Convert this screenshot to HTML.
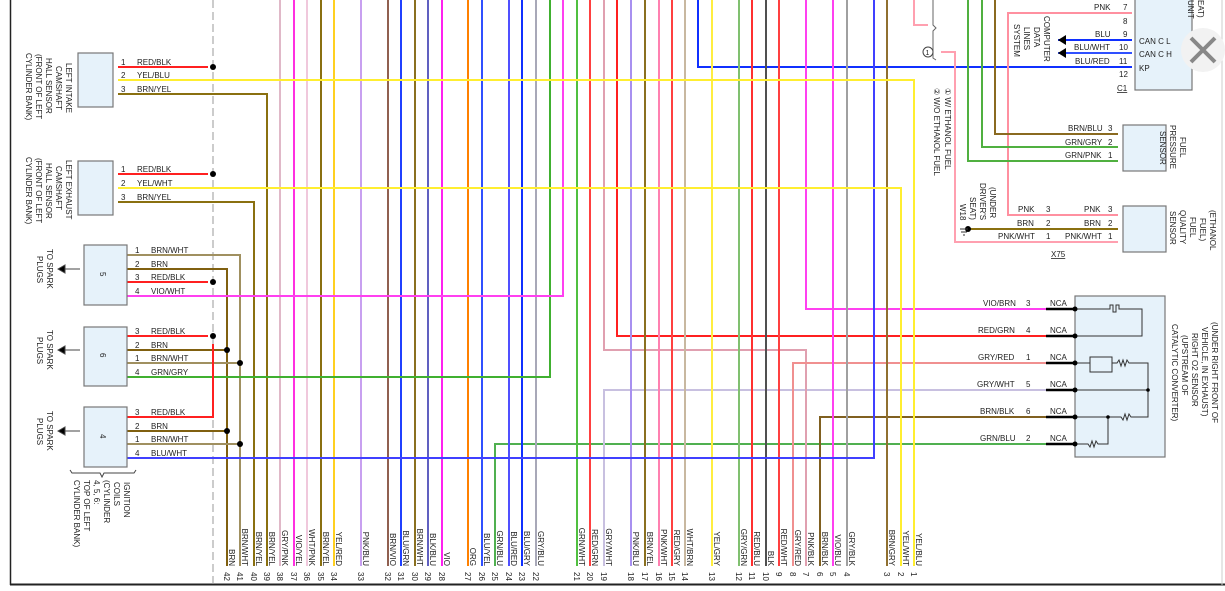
<!DOCTYPE html>
<html><head><meta charset="utf-8"><style>
html,body{margin:0;padding:0;background:#fff;}
svg{display:block;font-family:"Liberation Sans",sans-serif;}
text{font-size:8px;fill:#222;}
</style></head><body>
<svg width="1225" height="591" viewBox="0 0 1225 591" xmlns="http://www.w3.org/2000/svg">
<rect width="1225" height="591" fill="#fff"/>
<line x1="10.5" y1="0" x2="10.5" y2="585" stroke="#222" stroke-width="1.5"/>
<line x1="10" y1="584.5" x2="1225" y2="584.5" stroke="#222" stroke-width="2"/>
<line x1="1222" y1="0" x2="1222" y2="585" stroke="#ccc" stroke-width="1"/>
<line x1="213" y1="0" x2="213" y2="585" stroke="#999" stroke-width="1" stroke-dasharray="8,4"/>

<g fill="none" stroke-width="2">
<polyline points="118,269 227,269 227,566" stroke="#806010"/>
<polyline points="118,255 240,255 240,566" stroke="#a09060"/>
<polyline points="118,202 254,202 254,566" stroke="#8a7010"/>
<polyline points="118,94 267,94 267,566" stroke="#8a7010"/>
<line x1="280" y1="0" x2="280" y2="566" stroke="#e0b8c8"/>
<line x1="294" y1="0" x2="294" y2="566" stroke="#ff30e0"/>
<line x1="307" y1="0" x2="307" y2="566" stroke="#f0c8dc"/>
<line x1="321" y1="0" x2="321" y2="566" stroke="#8a7010"/>
<line x1="334" y1="0" x2="334" y2="566" stroke="#ffd020"/>
<line x1="361" y1="0" x2="361" y2="566" stroke="#c8a0f0"/>
<line x1="388" y1="0" x2="388" y2="566" stroke="#906050"/>
<line x1="401" y1="0" x2="401" y2="566" stroke="#2040ff"/>
<line x1="415" y1="0" x2="415" y2="566" stroke="#8a7020"/>
<line x1="428" y1="0" x2="428" y2="566" stroke="#6060c0"/>
<line x1="442" y1="0" x2="442" y2="566" stroke="#ff20f0"/>
<line x1="468" y1="0" x2="468" y2="566" stroke="#ff8000"/>
<line x1="482" y1="0" x2="482" y2="566" stroke="#3050ff"/>
<polyline points="1090,444 495,444 495,566" stroke="#50b050"/>
<line x1="509" y1="0" x2="509" y2="566" stroke="#5050ff"/>
<line x1="522" y1="0" x2="522" y2="566" stroke="#1030ff"/>
<line x1="536" y1="0" x2="536" y2="566" stroke="#a8a8b8"/>
<polyline points="550,0 550,377 118,377" stroke="#40b030"/>
<polyline points="563,0 563,296 118,296" stroke="#ff40f0"/>
<line x1="577" y1="0" x2="577" y2="566" stroke="#50c040"/>
<line x1="590" y1="0" x2="590" y2="566" stroke="#ff4040"/>
<polyline points="1090,390 604,390 604,566" stroke="#c8c0e0"/>
<polyline points="604,0 604,350 806,350 806,566" stroke="#e0a0b0"/>
<polyline points="617,0 617,336 1090,336" stroke="#ff2020"/>
<line x1="631" y1="0" x2="631" y2="566" stroke="#a890f0"/>
<line x1="645" y1="0" x2="645" y2="566" stroke="#8a7020"/>
<line x1="659" y1="0" x2="659" y2="566" stroke="#ff80b0"/>
<line x1="672" y1="0" x2="672" y2="566" stroke="#ff4040"/>
<line x1="685" y1="0" x2="685" y2="566" stroke="#c8b8a0"/>
<polyline points="698,0 698,67 1132,67" stroke="#1030ff"/>
<line x1="712" y1="0" x2="712" y2="566" stroke="#ffee40"/>
<line x1="739" y1="0" x2="739" y2="566" stroke="#80c070"/>
<line x1="752" y1="0" x2="752" y2="566" stroke="#ff3030"/>
<line x1="766" y1="0" x2="766" y2="566" stroke="#505050"/>
<line x1="779" y1="0" x2="779" y2="566" stroke="#ff4040"/>
<polyline points="1090,363 793,363 793,566" stroke="#f09090"/>
<polyline points="806,0 806,309 1090,309" stroke="#ff40f0"/>
<polyline points="1090,417 820,417 820,566" stroke="#806020"/>
<line x1="833" y1="0" x2="833" y2="566" stroke="#ff40f0"/>
<line x1="847" y1="0" x2="847" y2="566" stroke="#a0a0a0"/>
<polyline points="118,458 874,458 874,0" stroke="#4040ff"/>
<line x1="887" y1="0" x2="887" y2="566" stroke="#907030"/>
<polyline points="118,188 901,188 901,566" stroke="#ffee30"/>
<polyline points="118,80 914,80 914,566" stroke="#ffee30"/>
<polyline points="118,350 227,350" stroke="#806010"/>
<polyline points="118,431 227,431" stroke="#806010"/>
<polyline points="118,363 240,363" stroke="#a09060"/>
<polyline points="118,444 240,444" stroke="#a09060"/>
<line x1="118" y1="67" x2="208" y2="67" stroke="#ff2020"/>
<line x1="118" y1="174" x2="208" y2="174" stroke="#ff2020"/>
<line x1="118" y1="282" x2="208" y2="282" stroke="#ff2020"/>
<line x1="118" y1="336" x2="208" y2="336" stroke="#ff2020"/>
<polyline points="118,417 213,417 213,344" stroke="#ff2020"/>
<polyline points="1132,13 1008,13 1008,215 1113,215" stroke="#ff90a0"/>
<line x1="1055" y1="215" x2="1118" y2="215" stroke="#ff90a0"/>
<polyline points="1118,134 995,134 995,0" stroke="#8a6a20"/>
<polyline points="1118,147 982,147 982,0" stroke="#50b040"/>
<polyline points="1118,161 968,161 968,0" stroke="#50b040"/>
<line x1="970" y1="229" x2="1118" y2="229" stroke="#8a7010"/>
<polyline points="941,52 955,52 955,242 1118,242" stroke="#ffa0b0"/>
<polyline points="914,0 914,25 928,25" stroke="#ffa0b0"/>
<line x1="1058" y1="40" x2="1132" y2="40" stroke="#1030ff"/>
<line x1="1058" y1="53" x2="1132" y2="53" stroke="#3050ff"/>
</g>
<polygon points="1058,40 1066,35 1066,45" fill="#000"/>
<polygon points="1058,53 1066,48 1066,58" fill="#000"/>
<path d="M933 0 V25 L936 28 L933 31 V58 L936 60" fill="none" stroke="#666"/>
<circle cx="928" cy="52" r="5" fill="#fff" stroke="#444"/><text x="925.5" y="55" style="font-size:7px">1</text>
<g fill="#000">
<circle cx="213" cy="67" r="3"/><circle cx="213" cy="174" r="3"/><circle cx="213" cy="282" r="3"/><circle cx="213" cy="336" r="3"/>
<circle cx="227" cy="350" r="3"/><circle cx="227" cy="431" r="3"/><circle cx="240" cy="363" r="3"/><circle cx="240" cy="444" r="3"/>
<circle cx="968" cy="229" r="3"/>
</g>
<g fill="#e6f2fa" stroke="#777" stroke-width="1.2">
<rect x="78" y="53" width="35" height="54"/>
<rect x="78" y="161" width="35" height="54"/>
<rect x="84" y="245" width="43" height="60"/>
<rect x="84" y="327" width="43" height="59"/>
<rect x="84" y="407" width="43" height="60"/>
<rect x="1135" y="-2" width="57" height="92"/>
<rect x="1123" y="125" width="43" height="46"/>
<rect x="1123" y="206" width="43" height="46"/>
<rect x="1075" y="296" width="90" height="161"/>
</g>
<circle cx="1203" cy="50" r="22" fill="#f2f2f2"/>
<path d="M1191 38 L1215 62 M1215 38 L1191 62" stroke="#888" stroke-width="4"/>
<g>
<text x="121" y="65">1</text><text x="137" y="65">RED/BLK</text>
<text x="121" y="78">2</text><text x="137" y="78">YEL/BLU</text>
<text x="121" y="92">3</text><text x="137" y="92">BRN/YEL</text>
<text x="121" y="172">1</text><text x="137" y="172">RED/BLK</text>
<text x="121" y="186">2</text><text x="137" y="186">YEL/WHT</text>
<text x="121" y="200">3</text><text x="137" y="200">BRN/YEL</text>
<text x="135" y="253">1</text><text x="151" y="253">BRN/WHT</text>
<text x="135" y="267">2</text><text x="151" y="267">BRN</text>
<text x="135" y="280">3</text><text x="151" y="280">RED/BLK</text>
<text x="135" y="294">4</text><text x="151" y="294">VIO/WHT</text>
<text x="135" y="334">3</text><text x="151" y="334">RED/BLK</text>
<text x="135" y="348">2</text><text x="151" y="348">BRN</text>
<text x="135" y="361">1</text><text x="151" y="361">BRN/WHT</text>
<text x="135" y="375">4</text><text x="151" y="375">GRN/GRY</text>
<text x="135" y="415">3</text><text x="151" y="415">RED/BLK</text>
<text x="135" y="429">2</text><text x="151" y="429">BRN</text>
<text x="135" y="442">1</text><text x="151" y="442">BRN/WHT</text>
<text x="135" y="456">4</text><text x="151" y="456">BLU/WHT</text>
</g>
<g>
<text transform="translate(100,272) rotate(90)">5</text>
<text transform="translate(100,353) rotate(90)">6</text>
<text transform="translate(100,434) rotate(90)">4</text>
</g>
<g>
<text transform="translate(66,63) rotate(90)">LEFT INTAKE</text>
<text transform="translate(56,66) rotate(90)">CAMSHAFT</text>
<text transform="translate(46,58) rotate(90)">HALL SENSOR</text>
<text transform="translate(36,54) rotate(90)">(FRONT OF LEFT</text>
<text transform="translate(26,53) rotate(90)">CYLINDER BANK)</text>
<text transform="translate(66,160) rotate(90)">LEFT EXHAUST</text>
<text transform="translate(56,166) rotate(90)">CAMSHAFT</text>
<text transform="translate(46,163) rotate(90)">HALL SENSOR</text>
<text transform="translate(36,158) rotate(90)">(FRONT OF LEFT</text>
<text transform="translate(26,157) rotate(90)">CYLINDER BANK)</text>
<text transform="translate(47,249) rotate(90)">TO SPARK</text><text transform="translate(37,256) rotate(90)">PLUGS</text>
<text transform="translate(47,330) rotate(90)">TO SPARK</text><text transform="translate(37,337) rotate(90)">PLUGS</text>
<text transform="translate(47,411) rotate(90)">TO SPARK</text><text transform="translate(37,418) rotate(90)">PLUGS</text>
<text transform="translate(124,482) rotate(90)">IGNITION</text>
<text transform="translate(114,482) rotate(90)">COILS</text>
<text transform="translate(104,480) rotate(90)">(CYLINDER</text>
<text transform="translate(94,480) rotate(90)">4, 5, 6:</text>
<text transform="translate(84,480) rotate(90)">TOP OF LEFT</text>
<text transform="translate(74,480) rotate(90)">CYLINDER BANK)</text>
</g>
<path d="M70 470 L72 473 H100 L102 477 L104 473 H134 L136 470" fill="none" stroke="#444"/>
<g stroke="#444" fill="#000">
<line x1="64" y1="269" x2="80" y2="269"/><polygon points="58,269 65,265 65,273"/>
<line x1="64" y1="350" x2="80" y2="350"/><polygon points="58,350 65,346 65,354"/>
<line x1="64" y1="431" x2="80" y2="431"/><polygon points="58,431 65,427 65,435"/>
</g>
<g>
<text transform="translate(229,566) rotate(90)" text-anchor="end">BRN</text>
<text transform="translate(242,566) rotate(90)" text-anchor="end">BRN/WHT</text>
<text transform="translate(256,566) rotate(90)" text-anchor="end">BRN/YEL</text>
<text transform="translate(269,566) rotate(90)" text-anchor="end">BRN/YEL</text>
<text transform="translate(282,566) rotate(90)" text-anchor="end">GRY/PNK</text>
<text transform="translate(296,566) rotate(90)" text-anchor="end">VIO/YEL</text>
<text transform="translate(309,566) rotate(90)" text-anchor="end">WHT/PNK</text>
<text transform="translate(323,566) rotate(90)" text-anchor="end">BRN/YEL</text>
<text transform="translate(336,566) rotate(90)" text-anchor="end">YEL/RED</text>
<text transform="translate(363,566) rotate(90)" text-anchor="end">PNK/BLU</text>
<text transform="translate(390,566) rotate(90)" text-anchor="end">BRN/VIO</text>
<text transform="translate(403,566) rotate(90)" text-anchor="end">BLU/GRN</text>
<text transform="translate(417,566) rotate(90)" text-anchor="end">BRN/WHT</text>
<text transform="translate(430,566) rotate(90)" text-anchor="end">BLK/BLU</text>
<text transform="translate(444,566) rotate(90)" text-anchor="end">VIO</text>
<text transform="translate(470,566) rotate(90)" text-anchor="end">ORG</text>
<text transform="translate(484,566) rotate(90)" text-anchor="end">BLU/YEL</text>
<text transform="translate(497,566) rotate(90)" text-anchor="end">GRN/BLU</text>
<text transform="translate(511,566) rotate(90)" text-anchor="end">BLU/RED</text>
<text transform="translate(524,566) rotate(90)" text-anchor="end">BLU/GRY</text>
<text transform="translate(538,566) rotate(90)" text-anchor="end">GRY/BLU</text>
<text transform="translate(579,566) rotate(90)" text-anchor="end">GRN/WHT</text>
<text transform="translate(592,566) rotate(90)" text-anchor="end">RED/GRN</text>
<text transform="translate(606,566) rotate(90)" text-anchor="end">GRY/WHT</text>
<text transform="translate(633,566) rotate(90)" text-anchor="end">PNK/BLU</text>
<text transform="translate(647,566) rotate(90)" text-anchor="end">BRN/YEL</text>
<text transform="translate(661,566) rotate(90)" text-anchor="end">PNK/WHT</text>
<text transform="translate(674,566) rotate(90)" text-anchor="end">RED/GRY</text>
<text transform="translate(687,566) rotate(90)" text-anchor="end">WHT/BRN</text>
<text transform="translate(714,566) rotate(90)" text-anchor="end">YEL/GRY</text>
<text transform="translate(741,566) rotate(90)" text-anchor="end">GRY/GRN</text>
<text transform="translate(754,566) rotate(90)" text-anchor="end">RED/BLU</text>
<text transform="translate(768,566) rotate(90)" text-anchor="end">BLK</text>
<text transform="translate(781,566) rotate(90)" text-anchor="end">RED/WHT</text>
<text transform="translate(795,566) rotate(90)" text-anchor="end">GRY/RED</text>
<text transform="translate(808,566) rotate(90)" text-anchor="end">PNK/BLK</text>
<text transform="translate(822,566) rotate(90)" text-anchor="end">BRN/BLK</text>
<text transform="translate(835,566) rotate(90)" text-anchor="end">VIO/BLU</text>
<text transform="translate(849,566) rotate(90)" text-anchor="end">GRY/BLK</text>
<text transform="translate(889,566) rotate(90)" text-anchor="end">BRN/GRY</text>
<text transform="translate(903,566) rotate(90)" text-anchor="end">YEL/WHT</text>
<text transform="translate(916,566) rotate(90)" text-anchor="end">YEL/BLU</text>
</g>
<g>
<text transform="translate(224,572) rotate(90)">42</text><text transform="translate(237,572) rotate(90)">41</text>
<text transform="translate(251,572) rotate(90)">40</text><text transform="translate(264,572) rotate(90)">39</text>
<text transform="translate(277,572) rotate(90)">38</text><text transform="translate(291,572) rotate(90)">37</text>
<text transform="translate(304,572) rotate(90)">36</text><text transform="translate(318,572) rotate(90)">35</text>
<text transform="translate(331,572) rotate(90)">34</text><text transform="translate(358,572) rotate(90)">33</text>
<text transform="translate(385,572) rotate(90)">32</text><text transform="translate(398,572) rotate(90)">31</text>
<text transform="translate(412,572) rotate(90)">30</text><text transform="translate(425,572) rotate(90)">29</text>
<text transform="translate(439,572) rotate(90)">28</text><text transform="translate(465,572) rotate(90)">27</text>
<text transform="translate(479,572) rotate(90)">26</text><text transform="translate(492,572) rotate(90)">25</text>
<text transform="translate(506,572) rotate(90)">24</text><text transform="translate(519,572) rotate(90)">23</text>
<text transform="translate(533,572) rotate(90)">22</text><text transform="translate(574,572) rotate(90)">21</text>
<text transform="translate(587,572) rotate(90)">20</text><text transform="translate(601,572) rotate(90)">19</text>
<text transform="translate(628,572) rotate(90)">18</text><text transform="translate(642,572) rotate(90)">17</text>
<text transform="translate(656,572) rotate(90)">16</text><text transform="translate(669,572) rotate(90)">15</text>
<text transform="translate(682,572) rotate(90)">14</text><text transform="translate(709,572) rotate(90)">13</text>
<text transform="translate(736,572) rotate(90)">12</text><text transform="translate(749,572) rotate(90)">11</text>
<text transform="translate(763,572) rotate(90)">10</text><text transform="translate(776,572) rotate(90)">9</text>
<text transform="translate(790,572) rotate(90)">8</text><text transform="translate(803,572) rotate(90)">7</text>
<text transform="translate(817,572) rotate(90)">6</text><text transform="translate(830,572) rotate(90)">5</text>
<text transform="translate(844,572) rotate(90)">4</text><text transform="translate(884,572) rotate(90)">3</text>
<text transform="translate(898,572) rotate(90)">2</text><text transform="translate(911,572) rotate(90)">1</text>
</g>
<g>
<text x="1094" y="10">PNK</text><text x="1123" y="10">7</text>
<text x="1123" y="24">8</text>
<text x="1095" y="37">BLU</text><text x="1123" y="37">9</text>
<text x="1074" y="50">BLU/WHT</text><text x="1119" y="50">10</text>
<text x="1075" y="64">BLU/RED</text><text x="1119" y="64">11</text>
<text x="1119" y="77">12</text>
<text x="1117" y="91" text-decoration="underline">C1</text>
<text x="1139" y="44">CAN C L</text><text x="1139" y="57">CAN C H</text><text x="1139" y="71">KP</text>
<text transform="translate(1044,16) rotate(90)">COMPUTER</text>
<text transform="translate(1034,27) rotate(90)">DATA</text>
<text transform="translate(1024,27) rotate(90)">LINES</text>
<text transform="translate(1014,24) rotate(90)">SYSTEM</text>
<text transform="translate(1198,0) rotate(90)">EAT)</text>
<text transform="translate(1188,0) rotate(90)">UNIT</text>
</g>
<g>
<text x="1068" y="131">BRN/BLU</text><text x="1108" y="131">3</text>
<text x="1065" y="145">GRN/GRY</text><text x="1108" y="145">2</text>
<text x="1065" y="158">GRN/PNK</text><text x="1108" y="158">1</text>
<text transform="translate(1180,137) rotate(90)">FUEL</text>
<text transform="translate(1170,125) rotate(90)">PRESSURE</text>
<text transform="translate(1160,131) rotate(90)">SENSOR</text>
<text x="1084" y="212">PNK</text><text x="1108" y="212">3</text>
<text x="1084" y="226">BRN</text><text x="1108" y="226">2</text>
<text x="1065" y="239">PNK/WHT</text><text x="1108" y="239">1</text>
<text x="1018" y="212">PNK</text><text x="1046" y="212">3</text>
<text x="1017" y="226">BRN</text><text x="1046" y="226">2</text>
<text x="998" y="239">PNK/WHT</text><text x="1046" y="239">1</text>
<text x="1051" y="257" text-decoration="underline">X75</text>
<text transform="translate(1210,210) rotate(90)">(ETHANOL</text>
<text transform="translate(1200,218) rotate(90)">FUEL)</text>
<text transform="translate(1190,217) rotate(90)">FUEL</text>
<text transform="translate(1180,210) rotate(90)">QUALITY</text>
<text transform="translate(1170,211) rotate(90)">SENSOR</text>
<text transform="translate(990,187) rotate(90)">(UNDER</text>
<text transform="translate(980,183) rotate(90)">DRIVER'S</text>
<text transform="translate(970,197) rotate(90)">SEAT)</text>
<text transform="translate(960,204) rotate(90)">W18</text>
<text transform="translate(945,88) rotate(90)">①  W/ ETHANOL FUEL</text>
<text transform="translate(934,88) rotate(90)">②  W/O ETHANOL FUEL</text>
</g>
<path d="M960 229 H968 M961 232 H967 M963 235 H965" stroke="#333"/>
<g>
<text x="983" y="306">VIO/BRN</text><text x="1026" y="306">3</text>
<text x="978" y="333">RED/GRN</text><text x="1026" y="333">4</text>
<text x="978" y="360">GRY/RED</text><text x="1026" y="360">1</text>
<text x="977" y="387">GRY/WHT</text><text x="1026" y="387">5</text>
<text x="980" y="414">BRN/BLK</text><text x="1026" y="414">6</text>
<text x="980" y="441">GRN/BLU</text><text x="1026" y="441">2</text>
<text x="1050" y="306">NCA</text><text x="1050" y="333">NCA</text><text x="1050" y="360">NCA</text>
<text x="1050" y="387">NCA</text><text x="1050" y="414">NCA</text><text x="1050" y="441">NCA</text>
<text transform="translate(1212,322) rotate(90)">(UNDER RIGHT FRONT OF</text>
<text transform="translate(1202,327) rotate(90)">VEHICLE, IN EXHAUST)</text>
<text transform="translate(1192,333) rotate(90)">RIGHT O2 SENSOR</text>
<text transform="translate(1182,335) rotate(90)">(UPSTREAM OF</text>
<text transform="translate(1172,324) rotate(90)">CATALYTIC CONVERTER)</text>
</g>
<g stroke="#000" stroke-width="2.5">
<line x1="1046" y1="309" x2="1075" y2="309"/><line x1="1046" y1="336" x2="1075" y2="336"/>
<line x1="1046" y1="363" x2="1075" y2="363"/><line x1="1046" y1="390" x2="1075" y2="390"/>
<line x1="1046" y1="417" x2="1075" y2="417"/><line x1="1046" y1="444" x2="1075" y2="444"/>
</g>
<g fill="none" stroke="#333" stroke-width="1">
<path d="M1075 309 H1110 V305 H1113 V312 H1116 V305 H1119 V309 H1142 V336 H1075"/>
<rect x="1090" y="357" width="22" height="15"/>
<path d="M1075 363 H1090 M1112 363 H1117 l2 -3 l2 6 l2 -6 l2 6 l2 -6 l2 3 H1148 V417 H1131 l-2 -3 l-2 6 l-2 -6 l-2 6 l-2 -3 H1075"/>
<path d="M1075 390 H1148 M1108 417 V444 H1098 l-2 -3 l-2 6 l-2 -6 l-2 6 l-2 -3 H1075"/>
</g>
<g fill="#000">
<circle cx="1075" cy="309" r="2.5"/><circle cx="1075" cy="336" r="2.5"/><circle cx="1075" cy="363" r="2.5"/>
<circle cx="1075" cy="390" r="2.5"/><circle cx="1075" cy="417" r="2.5"/><circle cx="1075" cy="444" r="2.5"/>
<circle cx="1148" cy="390" r="1.8"/><circle cx="1108" cy="417" r="1.8"/>
</g>
</svg>
</body></html>
